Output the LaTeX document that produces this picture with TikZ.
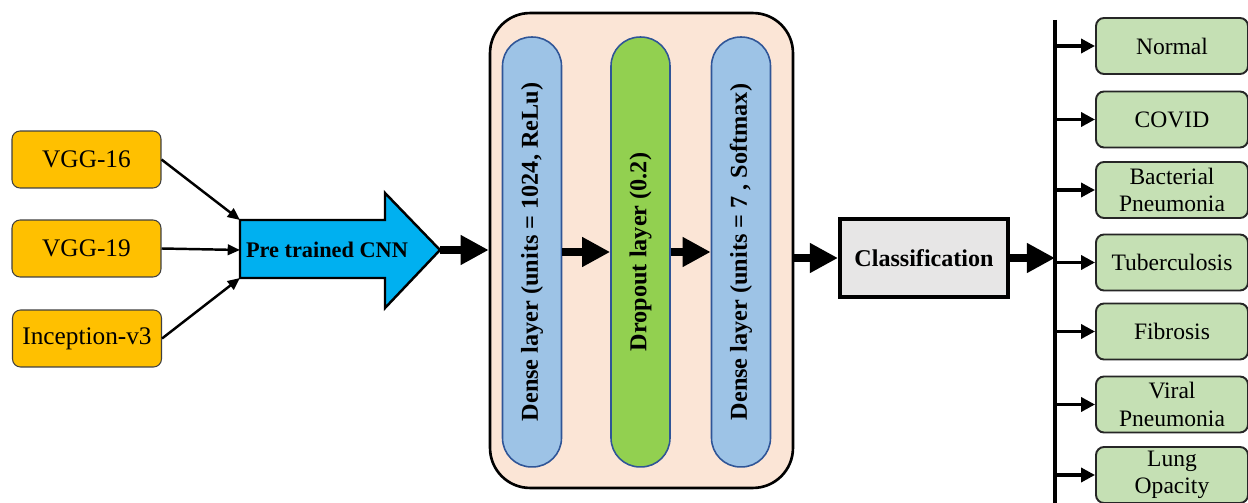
\documentclass[tikz,border=0pt]{standalone}
\usepackage{fontspec}
\setmainfont{Liberation Serif}
\usepackage{tikz}
\usetikzlibrary{arrows.meta, positioning, calc}
\definecolor{inorange}{HTML}{FFC000}
\definecolor{cnncyan}{HTML}{00B0F0}
\definecolor{framepeach}{HTML}{FBE5D6}
\definecolor{densblue}{HTML}{9DC3E6}
\definecolor{pillborder}{HTML}{2F5597}
\definecolor{dropgreen}{HTML}{92D050}
\definecolor{clsgray}{HTML}{E7E6E6}
\definecolor{outgreen}{HTML}{C5E0B4}

\begin{document}
\begin{tikzpicture}[x=0.02cm, y=-0.02cm,
  inbox/.style={draw=black!75, line width=0.6pt, fill=inorange, rounded corners=0.16cm,
    minimum width=2.98cm, minimum height=1.14cm, font=\fontsize{14.4}{16}\selectfont},
  pill/.style={draw=pillborder, line width=0.9pt, rounded corners=0.58cm,
    minimum width=1.18cm, minimum height=8.6cm, inner sep=0pt,
    font=\bfseries\fontsize{13.8}{16}\selectfont},
  outbox/.style={draw=black!85, line width=1.1pt, fill=outgreen, rounded corners=0.16cm,
    minimum width=3.04cm, minimum height=1.12cm, inner sep=1pt, align=center,
    font=\fontsize{13.4}{15.5}\selectfont},
  thin/.style={line width=1.4pt, -{Triangle[length=7pt, width=6pt]}},
  fat/.style={line width=4.5pt, -{Triangle[length=16pt, width=16pt]}},
  busarrow/.style={line width=2pt, -{Triangle[length=8pt, width=8pt]}}]
  \useasboundingbox (0,0) rectangle (1248,503);
  % ================================================================
  % inputs and pre trained CNN
  % ================================================================
  \node[inbox] (vgg16) at (86.5,159.5) {VGG-16};
  \node[inbox] (vgg19) at (86.5,248.5) {VGG-19};
  \node[inbox] (incep) at (87,338.5) {Inception-v3};
  % big arrow shape -------------------------------------------------
  \draw[fill=cnncyan, line width=1.4pt, line join=miter]
    (240,220) coordinate (cnnTL) -- (385,220) -- (385,193) -- (440,250) coordinate (cnntip)
    -- (385,308) -- (385,278) -- (240,278) coordinate (cnnBL) -- cycle;
  \coordinate (cnnW) at (240,250);
  \node[font=\bfseries\fontsize{12.7}{14}\selectfont] (cnn) at (327,250) {Pre trained CNN};
  \draw[thin] (vgg16.east) -- (cnnTL);
  \draw[thin] (vgg19.east) -- (cnnW);
  \draw[thin] (incep.east) -- (cnnBL);
  % ================================================================
  % dense / dropout block
  % ================================================================
  \node[draw, line width=1.5pt, fill=framepeach, rounded corners=0.8cm,
    minimum width=6.06cm, minimum height=9.5cm] (frame) at (641.5,250.5) {};
  \node[pill, fill=densblue] (dense1) at (532,252) {\rotatebox{90}{Dense layer (units = 1024, ReLu)}};
  \node[pill, fill=dropgreen] (drop) at (640.5,252) {\rotatebox{90}{Dropout layer (0.2)}};
  \node[pill, fill=densblue] (dense2) at (741,252) {\rotatebox{90}{Dense layer (units = 7 , Softmax)}};
  \draw[fat] (cnntip) -- (cnntip -| frame.west);
  \draw[fat] (dense1.east) -- (drop.west);
  \draw[fat] (drop.east) -- (dense2.west);
  % ================================================================
  % classification and classes
  % ================================================================
  \node[draw, line width=2.3pt, fill=clsgray, minimum width=3.36cm, minimum height=1.56cm,
    font=\bfseries\fontsize{13.7}{16}\selectfont] (cls) at (924,258) {Classification};
  \draw[fat] (cls.west -| frame.east) -- (cls.west);
  \coordinate (bustop) at (1055,20);
  \coordinate (busbot) at (1055,503);
  \draw[line width=2.2pt] (bustop) -- (busbot);
  \draw[fat] (cls.east) -- (cls.east -| bustop);
  \foreach \n/\y/\t in {normal/46/Normal, covid/119.5/COVID, bact/190/{Bacterial\\Pneumonia},
      tb/262.5/Tuberculosis, fib/331.5/Fibrosis, viral/404.5/{Viral\\Pneumonia}, lung/475/{Lung\\Opacity}} {
    \node[outbox] (\n) at (1172,\y) {\t};
    \draw[busarrow] (bustop |- \n.west) -- (\n.west);
  }
\end{tikzpicture}
\end{document}
